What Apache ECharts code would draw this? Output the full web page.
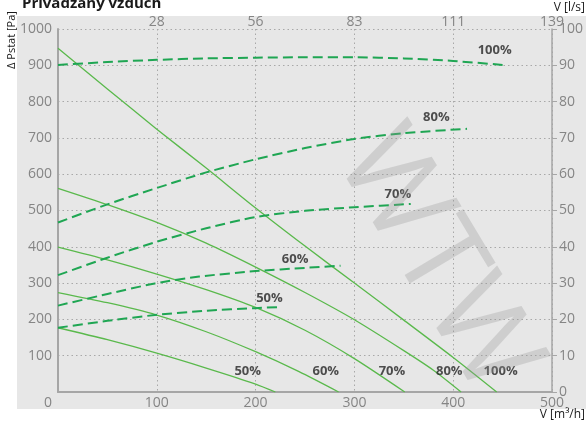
<!DOCTYPE html>
<html>
<head>
<meta charset="utf-8">
<script src="https://cdn.jsdelivr.net/npm/echarts@6/dist/echarts.min.js"></script>
<style>
html,body{margin:0;padding:0;background:#fff;}
#chart{width:586px;height:425px;}
</style>
</head>
<body>
<div id="chart"></div>
<script>
// ---- data (V [m3/h], dPstat [Pa]) ----
const fan50  = [[0,177],[50,144],[100,107],[150,66],[200,22],[220,0]];
const fan60  = [[0,274],[50,246],[100,212],[150,166],[200,111],[244,56],[284,0]];
const fan70  = [[0,399],[50,364],[100,325],[150,282],[200,233],[250,170],[300,92],[351,0]];
const fan80  = [[0,561],[50,516],[100,467],[150,410],[200,344],[250,274],[300,199],[350,114],[380,60],[408,0]];
const fan100 = [[0,947],[50,835],[100,724],[150,617],[200,507],[250,402],[300,300],[350,198],[400,95],[444,0]];

const sys50  = [[0,177],[50,196],[98,212],[150,224],[200,231],[224,234]];
const sys60  = [[0,238],[50,270],[98,299],[143,318],[200,333],[250,342],[286,348]];
const sys70  = [[0,322],[50,370],[100,414],[150,451],[200,482],[250,499],[300,509],[357,518]];
const sys80  = [[0,467],[50,517],[100,562],[150,605],[200,641],[250,672],[300,697],[350,713],[414,725]];
const sys100 = [[0,901],[50,909],[100,915],[150,919],[200,921],[250,922],[300,922],[350,919],[400,912],[450,901]];

const fanLabels = [[192,57,'50%'],[271,57,'60%'],[338,57,'70%'],[396,57,'80%'],[448,57,'100%']];
const sysLabels = [[214,259,'50%'],[240,366,'60%'],[344,545,'70%'],[383,757,'80%'],[442,942,'100%']];

const xTicks = [0,100,200,300,400,500];
const topTickLabels = ['', '28', '56', '83', '111', '139'];

const title = 'Privádzaný vzduch';
const yName = 'Δ Pstat [Pa]';
const topName = 'V [l/s]';
const bottomName = 'V [m³/h]';
const watermark = 'WTW';

// ---- styles ----
const FONT = '"Open Sans", "Noto Sans", sans-serif';
const GRAY_TXT = '#858585';
const AXIS = '#a6a6a6';
const SOLID = '#5ab94c';
const DASH = '#1fa653';
const GRID_LINE = {show:true, lineStyle:{color:'#a8a8a8', type:[1.5,3], width:1}};

const chart = echarts.init(document.getElementById('chart'), null, {renderer:'canvas'});

function solid(d){
  return {type:'line', data:d, smooth:0.25, symbol:'none', xAxisIndex:0, yAxisIndex:0,
    lineStyle:{color:SOLID, width:1.3}, silent:true, z:3};
}
function dashed(d){
  return {type:'line', data:d, smooth:0.25, symbol:'none', xAxisIndex:0, yAxisIndex:0,
    lineStyle:{color:DASH, width:2, type:[10,5]}, silent:true, z:4};
}
function labels(d){
  return {type:'scatter', data:d.map(p=>({value:[p[0],p[1]], name:p[2]})), symbolSize:0,
    xAxisIndex:0, yAxisIndex:0, silent:true, z:6,
    label:{show:true, position:'inside', formatter:p=>p.name, color:'#262626',
      fontFamily:FONT, fontWeight:'bold', fontSize:13}};
}

const option = {
  animation:false,
  backgroundColor:'#ffffff',
  graphic:[
    {type:'rect', left:17, top:16, shape:{width:569, height:393}, style:{fill:'#e7e7e7'}, z:-10, silent:true},
    {type:'text', x:436, y:262, rotation:-1.03, z:100, silent:true,
      style:{text:watermark, fill:'rgba(150,150,150,0.3)', font:'118px ' + FONT, align:'center', verticalAlign:'middle'}},
    {type:'text', x:22, y:11, style:{text:title, fill:'#1a1a1a', font:'bold 15px ' + FONT, verticalAlign:'bottom'}, z:10},
    {type:'text', x:12, y:40, rotation:Math.PI/2, style:{text:yName, fill:'#1a1a1a', font:'11px ' + FONT, align:'center', verticalAlign:'middle'}, z:10},
    {type:'text', x:585, y:8, style:{text:topName, fill:'#1a1a1a', font:'12px ' + FONT, align:'right', verticalAlign:'middle'}, z:10},
    {type:'text', x:585, y:415, style:{text:bottomName, fill:'#1a1a1a', font:'12px ' + FONT, align:'right', verticalAlign:'middle'}, z:10}
  ],
  grid:{left:58, right:32, top:29, bottom:33, containLabel:false},
  xAxis:[
    {type:'value', position:'bottom', min:xTicks[0], max:xTicks[xTicks.length-1], interval:100,
      axisLine:{show:true, onZero:false, lineStyle:{color:AXIS, width:2}},
      axisTick:{show:false},
      axisLabel:{color:GRAY_TXT, fontFamily:FONT, fontSize:14, margin:4,
        formatter:v => v===0 ? '{z|0}' : String(v),
        rich:{z:{color:GRAY_TXT, fontFamily:FONT, fontSize:14, padding:[0,20,0,0]}}},
      splitLine:GRID_LINE},
    {type:'value', position:'top', min:xTicks[0], max:xTicks[xTicks.length-1], interval:100,
      axisLine:{show:true, lineStyle:{color:AXIS, width:1.5}},
      axisTick:{show:false},
      axisLabel:{color:GRAY_TXT, fontFamily:FONT, fontSize:14, margin:0,
        formatter:v => topTickLabels[xTicks.indexOf(v)]},
      splitLine:{show:false}}
  ],
  yAxis:[
    {type:'value', position:'left', min:0, max:1000, interval:100,
      axisLine:{show:true, onZero:false, lineStyle:{color:AXIS, width:2}},
      axisTick:{show:false},
      axisLabel:{color:GRAY_TXT, fontFamily:FONT, fontSize:14, margin:6, showMinLabel:false,
        formatter:v => String(v)},
      splitLine:GRID_LINE},
    {type:'value', position:'right', min:0, max:100, interval:10,
      axisLine:{show:true, onZero:false, lineStyle:{color:AXIS, width:1.5}},
      axisTick:{show:true, length:5, lineStyle:{color:AXIS}},
      axisLabel:{color:GRAY_TXT, fontFamily:FONT, fontSize:14, margin:7, formatter:v => String(v)},
      splitLine:{show:false}}
  ],
  series:[
    solid(fan50), solid(fan60), solid(fan70), solid(fan80), solid(fan100),
    dashed(sys50), dashed(sys60), dashed(sys70), dashed(sys80), dashed(sys100),
    labels(fanLabels), labels(sysLabels)
  ]
};
chart.setOption(option);
</script>
</body>
</html>
